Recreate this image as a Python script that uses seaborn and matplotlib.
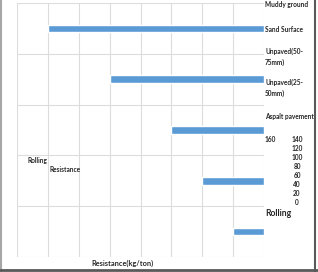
"""Rolling resistance by surface type, Excel-style bar chart"""

import matplotlib.pyplot as plt
import pandas as pd
import seaborn as sns
from matplotlib.lines import Line2D

# data
surfaces = ['Muddy ground', 'Sand Surface', 'Unpaved(50-75mm)',
            'Unpaved(25-50mm)', 'Aspalt pavement']
resistance = [140, 100, 60, 40, 20]
scale_ticks = [160, 140, 120, 100, 80, 60, 40, 20, 0]

W, H = 318, 272
BLUE = '#5b9bd5'
TEXT = '#262626'
SMALL = 4.7


def px(x, y):
    '''pixel position -> figure fraction'''
    return x / W, 1 - y / H


sns.set_style('white')
plt.rcParams['font.family'] = ['Lato', 'DejaVu Sans']

fig = plt.figure(figsize=(W / 100, H / 100), dpi=100)
left, top = px(17, 3)
right, bottom = px(264, 257)
ax = fig.add_axes([left, bottom, right - left, top - bottom])

df = pd.DataFrame({'surface': surfaces, 'resistance': resistance})
sns.barplot(data=df, x='resistance', y='surface', orient='h',
            color=BLUE, saturation=1, width=0.15, ax=ax)

# reversed value axis, grid at every 20 and between categories
ax.set_xlim(scale_ticks[0], scale_ticks[-1])
ax.set_xticks(scale_ticks)
ax.set_yticks([i - 0.5 for i in range(len(surfaces) + 1)])
ax.set_ylim(len(surfaces) - 0.5, -0.5)
ax.grid(True, color='#dcdcdc', linewidth=0.8)
ax.set_axisbelow(True)
ax.tick_params(length=0, labelbottom=False, labelleft=False)
ax.set(xlabel='', ylabel='')
for spine in ax.spines.values():
    spine.set_visible(False)

# the misplaced labels, as they sit in the reference
label_y = [5, 29, 57, 88, 117]
for name, y in zip(surfaces, label_y):
    fig.text(*px(265, y), name.replace('-', '-\n'), fontsize=SMALL,
             fontweight='bold', color=TEXT, va='center', ha='left',
             linespacing=1.5)

fig.text(*px(265, 139), str(scale_ticks[0]), fontsize=SMALL,
         fontweight='bold', color=TEXT, va='center', ha='left')
for i, tick in enumerate(scale_ticks[1:]):
    fig.text(*px(297, 139 + i * 9.1), str(tick), fontsize=SMALL,
             fontweight='bold', color=TEXT, va='center', ha='center')

fig.text(*px(265, 213), 'Rolling', fontsize=6.2, fontweight='bold',
         color=TEXT, va='center', ha='left')
fig.text(*px(28, 160), 'Rolling', fontsize=SMALL, fontweight='bold',
         color=TEXT, va='center', ha='left')
fig.text(*px(49, 169), 'Resistance', fontsize=SMALL, fontweight='bold',
         color=TEXT, va='center', ha='left')
fig.text(*px(122, 263.5), 'Resistance(kg/ton)', fontsize=5.3,
         fontweight='bold', color=TEXT, va='center', ha='center')

# chart frame
fig.add_artist(Line2D([0.003, 0.003], [0, 1], color='#a6a6a6', lw=1.5,
                      transform=fig.transFigure))
fig.add_artist(Line2D([0, 1], [1 - 270 / H] * 2, color='#595959', lw=2,
                      transform=fig.transFigure))
fig.add_artist(Line2D([314.5 / W] * 2, [0, 1], color='#595959', lw=1.5,
                      transform=fig.transFigure))

fig.savefig('out.png', dpi=100)
